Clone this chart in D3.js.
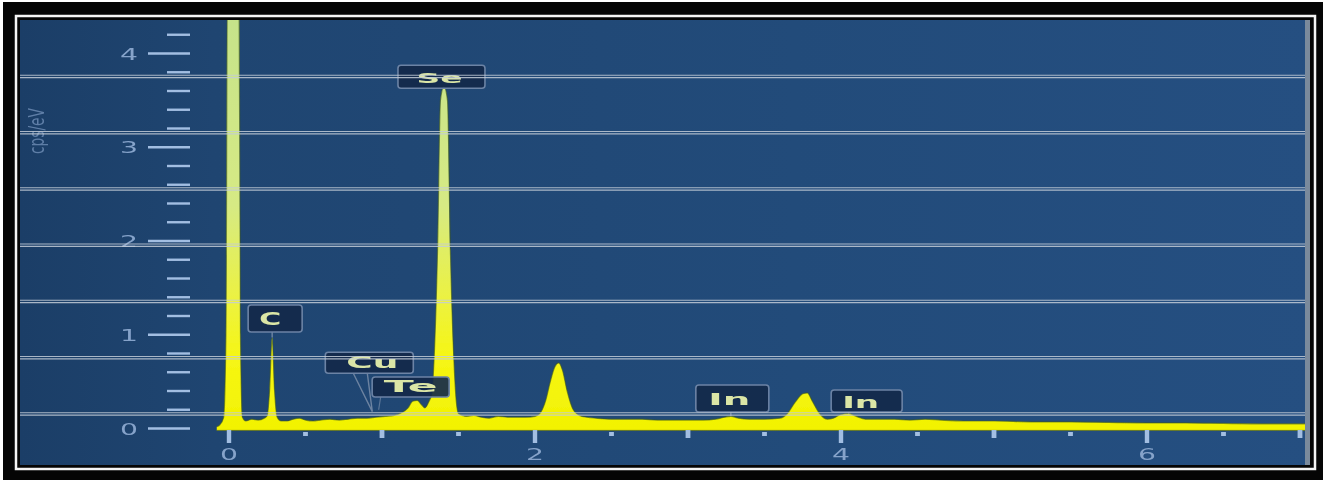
<!DOCTYPE html>
<html><head><meta charset="utf-8">
<script src="https://cdn.jsdelivr.net/npm/d3@7"></script>
<style>html,body{margin:0;padding:0;background:#fff;overflow:hidden}</style>
</head><body>
<svg id="c" width="1327" height="483"></svg>
<script>
// ---------------- DATA ----------------
const energy = [-0.08,-0.06,-0.035,-0.02,-0.01,0.065,0.075,0.088,0.11,0.15,0.19,0.23,0.25,0.265,0.282,0.298,0.315,0.34,0.38,0.42,0.46,0.50,0.55,0.60,0.66,0.72,0.78,0.84,0.90,0.96,1.02,1.08,1.13,1.17,1.20,1.23,1.26,1.28,1.31,1.325,1.34,1.363,1.382,1.405,1.428,1.447,1.47,1.485,1.50,1.55,1.60,1.65,1.70,1.76,1.82,1.88,1.94,2.00,2.04,2.07,2.10,2.13,2.155,2.18,2.21,2.25,2.29,2.34,2.40,2.50,2.60,2.70,2.80,2.90,3.00,3.10,3.18,3.24,3.28,3.33,3.40,3.50,3.60,3.65,3.70,3.75,3.78,3.81,3.86,3.91,3.95,4.00,4.05,4.10,4.16,4.25,4.35,4.45,4.55,4.65,4.80,5.00,5.25,5.50,5.75,6.00,6.25,6.50,6.75,7.10];
const counts = [0.02,0.04,0.12,1.0,4.9,4.9,1.0,0.12,0.08,0.10,0.09,0.11,0.14,0.40,0.97,0.40,0.12,0.08,0.08,0.10,0.11,0.09,0.08,0.09,0.10,0.09,0.10,0.11,0.11,0.12,0.13,0.14,0.17,0.22,0.29,0.30,0.25,0.22,0.30,0.36,0.73,1.9,3.5,3.65,3.5,1.9,0.73,0.30,0.16,0.13,0.14,0.12,0.11,0.13,0.12,0.12,0.12,0.13,0.18,0.30,0.50,0.66,0.70,0.62,0.40,0.20,0.14,0.12,0.11,0.10,0.10,0.10,0.09,0.09,0.09,0.09,0.10,0.12,0.13,0.11,0.10,0.10,0.11,0.16,0.28,0.37,0.38,0.30,0.16,0.10,0.11,0.15,0.16,0.13,0.10,0.10,0.10,0.09,0.10,0.09,0.08,0.08,0.07,0.07,0.065,0.06,0.06,0.055,0.05,0.05];

const yMajorTicks = [0,1,2,3,4];
const yMinorTicks = [0.2,0.4,0.6,0.8,1.2,1.4,1.6,1.8,2.2,2.4,2.6,2.8,3.2,3.4,3.6,3.8,4.2];
const xMajorTicks = [0,2,4,6];
const xMidTicks = [1,3,5,7];
const xMinorTicks = [0.5,1.5,2.5,3.5,4.5,5.5,6.5];
const gridValues = [0.155,0.755,1.355,1.955,2.555,3.155,3.755];
const peakNames = ["C","Cu","Te","Se","In","In"];
const peakEnergies = [0.282,0.93,1.22,1.405,3.28,4.05];
const yTitle = "cps/eV";

// ---------------- LAYOUT ----------------
const W = 1327, H = 483;
const panel = {x0:20, y0:20, x1:1310, y1:465};
const plotRight = 1305;
const x = d3.scaleLinear().domain([0,7]).range([229,1300]);
const y = d3.scaleLinear().domain([0,4]).range([428.5,53.5]);

// annotation box layout (offsets relative to peak energy, box bottom in value units)
const boxLayout = [
  {dx:3,  w:54, h:27, bottom:1.03, tdx:-5, tw:22, fs:17, tb:7},
  {dx:-2, w:88, h:21, bottom:0.59, tdx:3,  tw:52, fs:15, tb:5},
  {dx:-5, w:77, h:20, bottom:0.336,tdx:0,  tw:54, fs:15, tb:5},
  {dx:-2.5,w:87,h:23, bottom:3.63, tdx:-2, tw:46, fs:14, tb:5},
  {dx:1.5,w:73, h:27, bottom:0.176,tdx:-3, tw:42, fs:15, tb:7},
  {dx:18, w:71, h:22, bottom:0.176,tdx:-6, tw:37, fs:15, tb:4}
];

const svg = d3.select("#c");
const defs = svg.append("defs");

const bg = defs.append("linearGradient").attr("id","bg")
  .attr("gradientUnits","userSpaceOnUse").attr("x1",20).attr("x2",1310).attr("y1",0).attr("y2",0);
bg.append("stop").attr("offset",0).attr("stop-color","#1b3e67");
bg.append("stop").attr("offset",0.15).attr("stop-color","#1f4571");
bg.append("stop").attr("offset",0.6).attr("stop-color","#224b7a");
bg.append("stop").attr("offset",1).attr("stop-color","#254f81");

const fg = defs.append("linearGradient").attr("id","fg")
  .attr("gradientUnits","userSpaceOnUse").attr("x1",0).attr("x2",0).attr("y1",20).attr("y2",432);
[[0,"#c6e38a"],[0.45,"#d6ea84"],[0.68,"#ecf240"],[0.82,"#f6f614"],[1,"#f2f200"]].forEach(s=>
  fg.append("stop").attr("offset",s[0]).attr("stop-color",s[1]));

defs.append("clipPath").attr("id","clip").append("rect")
  .attr("x",panel.x0).attr("y",panel.y0).attr("width",plotRight-panel.x0).attr("height",panel.y1-panel.y0);
const blur = defs.append("filter").attr("id","soft").attr("x","-5%").attr("y","-5%").attr("width","110%").attr("height","110%");
blur.append("feGaussianBlur").attr("stdDeviation",0.6);

// frame
svg.append("rect").attr("width",W).attr("height",H).attr("fill","#ffffff");
svg.append("rect").attr("x",3).attr("y",2).attr("width",1320).attr("height",478).attr("fill","#050505");
svg.append("rect").attr("x",16).attr("y",16).attr("width",1299).attr("height",453)
  .attr("fill","none").attr("stroke","#f4f4f4").attr("stroke-width",2.5);
svg.append("rect").attr("x",panel.x0).attr("y",panel.y0).attr("width",panel.x1-panel.x0).attr("height",panel.y1-panel.y0)
  .attr("fill","url(#bg)");
svg.append("rect").attr("x",plotRight).attr("y",panel.y0).attr("width",panel.x1-plotRight).attr("height",panel.y1-panel.y0)
  .attr("fill","#7a8a9c");

// y title (partly cut by the panel edge, as in the reference)
svg.append("g").attr("clip-path","url(#clip)").append("text")
  .attr("transform","translate(44,131) rotate(-90)")
  .attr("text-anchor","middle").attr("font-family","DejaVu Sans, sans-serif").attr("font-size",21)
  .attr("fill","#7c9ac2").attr("opacity",0.7).attr("textLength",46).attr("lengthAdjust","spacingAndGlyphs")
  .attr("filter","url(#soft)")
  .text(yTitle);

// spectrum
const pts = energy.map((e,i)=>[e,counts[i]]);
const area = d3.area().x(d=>x(d[0])).y0(y(-0.02)).y1(d=>y(d[1])).curve(d3.curveMonotoneX);
const line = d3.line().x(d=>x(d[0])).y(d=>y(d[1])).curve(d3.curveMonotoneX);
const sg = svg.append("g").attr("clip-path","url(#clip)").append("g").attr("filter","url(#soft)");
sg.append("path").datum(pts).attr("d",area).attr("fill","url(#fg)");
sg.append("path").datum(pts).attr("d",line).attr("fill","none")
  .attr("stroke","#3f5a1e").attr("stroke-width",1.2).attr("stroke-opacity",0.6);
sg.append("line").attr("x1",x(-0.08)).attr("x2",plotRight).attr("y1",y(-0.02)).attr("y2",y(-0.02))
  .attr("stroke","#4a5a1a").attr("stroke-width",1).attr("stroke-opacity",0.6);

// y axis
const tickCol = "#a2bee2", labCol = "#86a3ca";
const ax = 190;
const ya = svg.append("g").attr("filter","url(#soft)");
ya.selectAll("line.maj").data(yMajorTicks).join("line")
  .attr("x1",ax-42).attr("x2",ax).attr("y1",d=>y(d)).attr("y2",d=>y(d))
  .attr("stroke",tickCol).attr("stroke-width",2.4);
ya.selectAll("line.min").data(yMinorTicks).join("line").attr("class","min")
  .attr("x1",ax-23).attr("x2",ax).attr("y1",d=>y(d)).attr("y2",d=>y(d))
  .attr("stroke",tickCol).attr("stroke-width",2.4);
ya.selectAll("text").data(yMajorTicks).join("text")
  .attr("x",138).attr("y",d=>y(d)+6).attr("text-anchor","end")
  .attr("font-family","DejaVu Sans, sans-serif").attr("font-size",16).attr("fill",labCol)
  .attr("textLength",18).attr("lengthAdjust","spacingAndGlyphs").text(d=>d);

// x axis
const xa = svg.append("g").attr("filter","url(#soft)");
xa.selectAll("rect.maj").data(xMajorTicks).join("rect").attr("class","maj")
  .attr("x",d=>x(d)-2.2).attr("y",430).attr("width",4.4).attr("height",13).attr("fill",tickCol);
xa.selectAll("rect.mid").data(xMidTicks).join("rect").attr("class","mid")
  .attr("x",d=>x(d)-2.4).attr("y",430).attr("width",4.8).attr("height",8).attr("fill",tickCol);
xa.selectAll("rect.mnr").data(xMinorTicks).join("rect").attr("class","mnr")
  .attr("x",d=>x(d)-2.4).attr("y",432).attr("width",4.8).attr("height",4).attr("fill",tickCol);
xa.selectAll("text").data(xMajorTicks).join("text")
  .attr("x",d=>x(d)).attr("y",459.5).attr("text-anchor","middle")
  .attr("font-family","DejaVu Sans, sans-serif").attr("font-size",16).attr("fill",labCol)
  .attr("textLength",18).attr("lengthAdjust","spacingAndGlyphs").text(d=>d);

// annotations
const ann = svg.append("g");
const ptrCol = "#8597b0";
peakNames.forEach((name,i)=>{
  const L = boxLayout[i];
  const px = x(peakEnergies[i]);
  const cx = px + L.dx;
  const by = y(L.bottom);
  const g = ann.append("g");
  if (name === "Cu") {
    g.append("path").attr("d",`M${cx-16},${by} L${px+1},${y(0.18)} L${cx-2},${by}`)
      .attr("fill","none").attr("stroke",ptrCol).attr("stroke-width",1.4).attr("opacity",0.75);
  } else if (name === "Te") {
    g.append("line").attr("x1",cx-30).attr("x2",cx-32).attr("y1",by).attr("y2",y(0.2))
      .attr("stroke",ptrCol).attr("stroke-width",1.2).attr("opacity",0.6);
  } else {
    const nearest = energy.reduce((a,b)=>Math.abs(b-peakEnergies[i])<Math.abs(a-peakEnergies[i])?b:a);
    const top = y(counts[energy.indexOf(nearest)]);
    g.append("line").attr("x1",px).attr("x2",px).attr("y1",by).attr("y2",Math.max(by,top))
      .attr("stroke",ptrCol).attr("stroke-width",1.4).attr("opacity",0.8);
  }
  g.append("rect").attr("x",cx-L.w/2).attr("y",by-L.h).attr("width",L.w).attr("height",L.h)
    .attr("rx",3).attr("fill","#13294a").attr("fill-opacity",0.92)
    .attr("stroke","#6c83a5").attr("stroke-width",1.6);
  g.append("text").attr("x",cx+L.tdx).attr("y",by-L.tb).attr("text-anchor","middle")
    .attr("font-family","DejaVu Sans, sans-serif").attr("font-weight","bold").attr("font-size",L.fs)
    .attr("fill","#dbe6a6").attr("textLength",L.tw).attr("lengthAdjust","spacingAndGlyphs")
    .attr("filter","url(#soft)").text(name);
});

// horizontal double grid lines (overlay)
const gg = svg.append("g").attr("opacity",0.85);
gridValues.forEach(v=>{
  [-1.2,1.2].forEach(o=>{
    gg.append("line").attr("x1",panel.x0).attr("x2",plotRight)
      .attr("y1",y(v)+o).attr("y2",y(v)+o).attr("stroke","#c3ccd7").attr("stroke-width",1.1);
  });
});
</script>
</body></html>
